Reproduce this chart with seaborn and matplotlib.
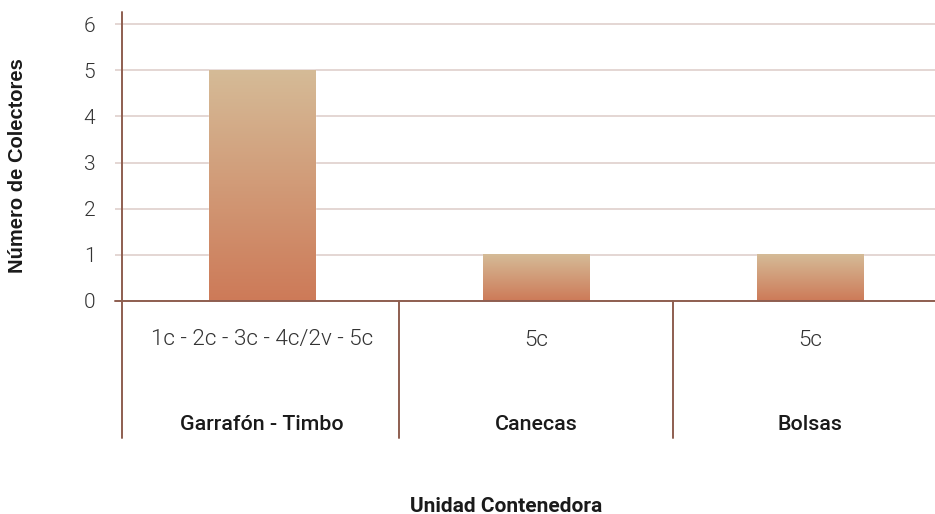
import numpy as np
import pandas as pd
import matplotlib
matplotlib.use("Agg")
import matplotlib.pyplot as plt
import matplotlib.transforms as mtransforms
from matplotlib.colors import LinearSegmentedColormap
import seaborn as sns

# Data
grupos = ["Garrafón - Timbo", "Canecas", "Bolsas"]
subcategorias = ["1c - 2c - 3c - 4c/2v - 5c", "5c", "5c"]
colectores = [5, 1, 1]
y_ticks = [0, 1, 2, 3, 4, 5, 6]

sns.set_theme(style="white")
plt.rcParams["font.family"] = ["Roboto", "DejaVu Sans"]

W, H = 935, 514
fig = plt.figure(figsize=(W / 100, H / 100), dpi=100)
left, right, top, bottom = 122, 947, 12, 301
ax = fig.add_axes([left / W, 1 - bottom / H, (right - left) / W, (bottom - top) / H])

df = pd.DataFrame({"grupo": grupos, "n": colectores})
sns.barplot(data=df, x="grupo", y="n", ax=ax, width=0.39,
            color="#D0946E", saturation=1, zorder=3)

# Vertical gradient fill for each bar (tan at the top, terracotta at the base)
cmap = LinearSegmentedColormap.from_list("barra", ["#CD7A58", "#D5BB97"])
grad = np.linspace(0, 1, 256).reshape(-1, 1)
for p in ax.patches:
    x0, w, h = p.get_x(), p.get_width(), p.get_height()
    ax.imshow(grad, cmap=cmap, origin="lower", aspect="auto",
              extent=[x0, x0 + w, 0, h], zorder=4)
ax.set_xlim(-0.511, 2.5)
ax.set_ylim(0, 6.26)

grid_c = "#DCCBC8"
axis_c = "#8E5E50"

ax.set_yticks(y_ticks)
ax.yaxis.grid(True, color=grid_c, lw=1.1, zorder=0)
ax.xaxis.grid(False)
for s in ax.spines.values():
    s.set_visible(False)
ax.tick_params(axis="y", left=True, length=5.2, width=1.1, color=grid_c,
               pad=14, labelsize=15, labelcolor="#333333")
for lab in ax.get_yticklabels():
    lab.set_fontweight(300)
ax.set_xticks([])
ax.set_xlabel("")
ax.set_ylabel("")

# Axis lines: baseline, left spine and category separators
y_low = (bottom - 438) / (bottom - top)
ax.plot([-7 / (right - left), 1], [0, 0], transform=ax.transAxes,
        color=axis_c, lw=1.4, clip_on=False, zorder=6)
ax.plot([0, 0], [1, y_low], transform=ax.transAxes,
        color=axis_c, lw=1.4, clip_on=False, zorder=6)
bt = mtransforms.blended_transform_factory(ax.transData, ax.transAxes)
for xs in [0.5, 1.5]:
    ax.plot([xs, xs], [0, y_low], transform=bt, color=axis_c, lw=1.4,
            clip_on=False, zorder=6)

# Two-level category labels
y_sub = (bottom - 340) / (bottom - top)
y_grp = (bottom - 424) / (bottom - top)
for i, (g, s) in enumerate(zip(grupos, subcategorias)):
    ax.text(i, y_sub, s, transform=bt, ha="center", va="center",
            fontsize=16.2, fontweight=300, color="#333333")
    ax.text(i, y_grp, g, transform=bt, ha="center", va="center",
            fontsize=15.4, fontweight="medium", color="#1a1a1a")

fig.text(506 / W, 1 - 506 / H, "Unidad Contenedora", ha="center", va="center",
         fontsize=15, fontweight="bold", color="#1a1a1a")
fig.text(18 / W, 1 - 166 / H, "Número de Colectores", ha="center", va="center",
         rotation=90, fontsize=14.5, fontweight="bold", color="#1a1a1a",
         family=["Liberation Sans", "DejaVu Sans"])

fig.savefig("out.png", dpi=100)
